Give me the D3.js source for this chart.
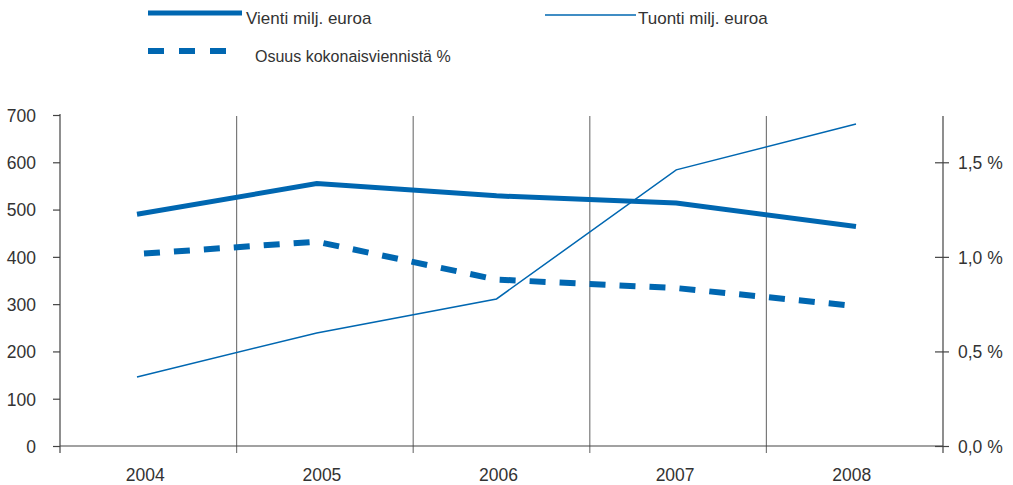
<!DOCTYPE html>
<html>
<head>
<meta charset="utf-8">
<script src="https://cdn.jsdelivr.net/npm/d3@7"></script>
<style>
  body { margin: 0; background: #fff; }
  text { font-family: "Liberation Sans", Arial, sans-serif; fill: #333; }
  .legend text { font-family: "Liberation Sans Narrow", "Liberation Sans", sans-serif; }
</style>
</head>
<body>
<div id="chart"></div>
<script>
// data
var years = ["2004", "2005", "2006", "2007", "2008"];
var vienti = [490, 555, 529, 514, 464];     // milj. euroa
var tuonti = [146, 239, 311, 584, 681];     // milj. euroa
var osuus = [1.015, 1.08, 0.88, 0.835, 0.74]; // % of total exports
var leftTicks = [0, 100, 200, 300, 400, 500, 600, 700];
var rightTicks = [0, 0.5, 1.0, 1.5];

var width = 1013;
var height = 485;
var blue = "#0067b1";

var svg = d3.select("#chart").append("svg")
  .attr("width", width)
  .attr("height", height);

var xBand = d3.scaleBand().domain(years).range([60, 943]);
var xPoint = d3.scalePoint().domain(years).range([137, 856]);
var yLeft = d3.scaleLinear().domain([0, 700]).range([446, 115]);
var yRight = d3.scaleLinear().domain([0, 1.75]).range([446, 115]);

// vertical separators between years
svg.append("g").selectAll("line")
  .data(years.slice(1))
  .enter().append("line")
  .attr("x1", function (d) { return xBand(d); })
  .attr("x2", function (d) { return xBand(d); })
  .attr("y1", 116)
  .attr("y2", 453)
  .attr("stroke", "#7a7a7a")
  .attr("stroke-width", 1.2);

// bottom axis line and year labels
svg.append("line")
  .attr("x1", 60).attr("x2", 943)
  .attr("y1", 446).attr("y2", 446)
  .attr("stroke", "#444").attr("stroke-width", 1.2);

svg.append("g").selectAll("text")
  .data(years)
  .enter().append("text")
  .attr("x", function (d) { return xBand(d) + xBand.bandwidth() / 2 - 3; })
  .attr("y", 481)
  .attr("text-anchor", "middle")
  .style("font-size", "17.5px")
  .text(function (d) { return d; });

// left axis
var leftAxis = svg.append("g")
  .attr("transform", "translate(60,0)")
  .call(d3.axisLeft(yLeft).tickValues(leftTicks).tickSize(7).tickSizeOuter(0).tickPadding(17));
leftAxis.select(".domain").remove();
leftAxis.selectAll("line").attr("stroke", "#444").attr("stroke-width", 1.2);
leftAxis.selectAll("text").style("font-size", "17.5px").attr("fill", "#333").attr("dy", "0.36em");
leftAxis.append("line")
  .attr("x1", 0).attr("x2", 0).attr("y1", 114).attr("y2", 453)
  .attr("stroke", "#444").attr("stroke-width", 1.2);

// right axis (percent)
var rightAxis = svg.append("g")
  .attr("transform", "translate(943,0)")
  .call(d3.axisRight(yRight).tickValues(rightTicks).tickSize(6).tickSizeOuter(0).tickPadding(9)
    .tickFormat(function (d) { return d.toFixed(1).replace(".", ",") + " %"; }));
rightAxis.select(".domain").remove();
rightAxis.selectAll(".tick line").attr("x1", -8).attr("stroke", "#444").attr("stroke-width", 1.2);
rightAxis.selectAll("text").style("font-size", "17.5px").attr("fill", "#333").attr("dy", "0.36em");
rightAxis.append("line")
  .attr("x1", 0).attr("x2", 0).attr("y1", 116).attr("y2", 453)
  .attr("stroke", "#444").attr("stroke-width", 1.2);

// lines
var lineLeft = d3.line()
  .x(function (d, i) { return xPoint(years[i]); })
  .y(function (d) { return yLeft(d); });
var lineRight = d3.line()
  .x(function (d, i) { return xPoint(years[i]); })
  .y(function (d) { return yRight(d); });

svg.append("path")
  .attr("d", lineLeft(tuonti))
  .attr("fill", "none")
  .attr("stroke", blue)
  .attr("stroke-width", 1.5);

svg.append("path")
  .attr("d", lineRight(osuus))
  .attr("fill", "none")
  .attr("stroke", blue)
  .attr("stroke-width", 6)
  .attr("stroke-dasharray", "16,14")
  .attr("stroke-dashoffset", -7);

svg.append("path")
  .attr("d", lineLeft(vienti))
  .attr("fill", "none")
  .attr("stroke", blue)
  .attr("stroke-width", 5);

// legend
var legend = svg.append("g").attr("class", "legend");

legend.append("line")
  .attr("x1", 148).attr("x2", 242).attr("y1", 13).attr("y2", 13)
  .attr("stroke", blue).attr("stroke-width", 5);
legend.append("text")
  .attr("x", 246).attr("y", 24)
  .style("font-size", "17px")
  .text("Vienti milj. euroa");

legend.append("line")
  .attr("x1", 545).attr("x2", 636).attr("y1", 15).attr("y2", 15)
  .attr("stroke", blue).attr("stroke-width", 1.5);
legend.append("text")
  .attr("x", 638).attr("y", 24)
  .style("font-size", "17px")
  .text("Tuonti milj. euroa");

legend.append("line")
  .attr("x1", 148).attr("x2", 226).attr("y1", 51).attr("y2", 51)
  .attr("stroke", blue).attr("stroke-width", 6)
  .attr("stroke-dasharray", "16,15");
legend.append("text")
  .attr("x", 255).attr("y", 62)
  .style("font-size", "16px")
  .text("Osuus kokonaisviennistä %");
</script>
</body>
</html>
